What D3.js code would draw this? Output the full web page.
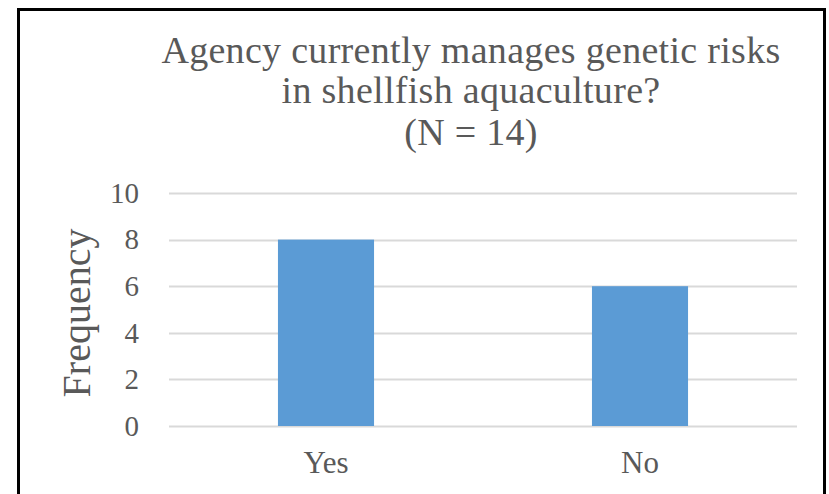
<!DOCTYPE html>
<html>
<head>
<meta charset="utf-8">
<script src="https://cdn.jsdelivr.net/npm/d3@7"></script>
<style>
  html, body { margin: 0; padding: 0; background: #ffffff; }
  svg { display: block; }
  text { font-family: "Liberation Serif", "DejaVu Serif", serif; fill: #595959; }
</style>
</head>
<body>
<svg id="chart" width="829" height="494"></svg>
<script>
// Survey responses
const categories = ["Yes", "No"];
const frequency = [8, 6];
const yTicks = [0, 2, 4, 6, 8, 10];
const titleLines = ["Agency currently manages genetic risks", "in shellfish aquaculture?", "(N = 14)"];
const yAxisTitle = "Frequency";

const svg = d3.select("#chart");
const W = 829, H = 494;

// Outer frame (open at the bottom)
svg.append("path")
  .attr("d", `M18.5,${H + 5} L18.5,9.5 L824.5,9.5 L824.5,${H + 5}`)
  .attr("fill", "none")
  .attr("stroke", "#000")
  .attr("stroke-width", 3);

const plot = { left: 169, right: 797, top: 193, bottom: 426 };

const x = d3.scaleBand()
  .domain(categories)
  .range([plot.left, plot.right])
  .paddingInner(0.694)
  .paddingOuter(0.347);

const y = d3.scaleLinear()
  .domain([0, 10])
  .range([plot.bottom, plot.top]);

// Gridlines
svg.append("g")
  .selectAll("line")
  .data(yTicks)
  .join("line")
  .attr("x1", plot.left)
  .attr("x2", plot.right)
  .attr("y1", d => Math.round(y(d)) + 0.5)
  .attr("y2", d => Math.round(y(d)) + 0.5)
  .attr("stroke", "#d9d9d9")
  .attr("stroke-width", 2);

// Y axis labels
const yAxis = d3.axisLeft(y).tickValues(yTicks).tickSize(0).tickPadding(0);
const gy = svg.append("g")
  .attr("transform", `translate(139,0)`)
  .call(yAxis);
gy.select(".domain").remove();
gy.selectAll("text")
  .attr("font-size", 29)
  .attr("fill", "#595959")
  .attr("font-family", "Liberation Serif, serif");

// Bars
svg.append("g")
  .selectAll("rect")
  .data(categories.map((c, i) => ({ c, v: frequency[i] })))
  .join("rect")
  .attr("x", d => x(d.c))
  .attr("width", x.bandwidth())
  .attr("y", d => y(d.v))
  .attr("height", d => y(0) - y(d.v))
  .attr("fill", "#5b9bd5");

// X axis labels
const xAxis = d3.axisBottom(x).tickSize(0).tickPadding(0);
const gx = svg.append("g")
  .attr("transform", `translate(0,${plot.bottom})`)
  .call(xAxis);
gx.select(".domain").remove();
gx.selectAll("text")
  .attr("dy", null)
  .attr("y", 47)
  .attr("font-size", 31)
  .attr("fill", "#595959")
  .attr("font-family", "Liberation Serif, serif");

// Y axis title
svg.append("text")
  .attr("transform", "translate(90,313) rotate(-90)")
  .attr("text-anchor", "middle")
  .attr("font-size", 40)
  .text(yAxisTitle);

// Chart title
const titleY = [63, 103, 145];
svg.append("g")
  .selectAll("text")
  .data(titleLines)
  .join("text")
  .attr("x", 471)
  .attr("y", (d, i) => titleY[i])
  .attr("text-anchor", "middle")
  .attr("font-size", 38)
  .attr("letter-spacing", 0.3)
  .text(d => d);
</script>
</body>
</html>
